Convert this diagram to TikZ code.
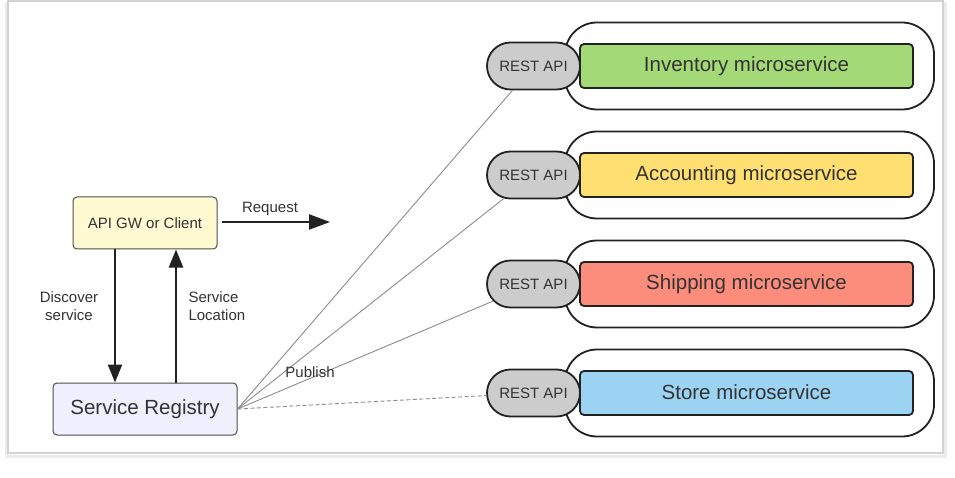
\documentclass[tikz,border=0pt]{standalone}
\usepackage{fontspec}
\setmainfont{Liberation Sans}
\usetikzlibrary{shapes.misc,arrows.meta}
\definecolor{txt}{HTML}{333333}
\definecolor{edge}{HTML}{222222}
\definecolor{frame}{HTML}{D2D2D2}
\definecolor{gwfill}{HTML}{FFFAD2}
\definecolor{regfill}{HTML}{EFEFFD}
\definecolor{pillfill}{HTML}{CCCCCC}
\definecolor{cgreen}{HTML}{A3D977}
\definecolor{cyellow}{HTML}{FFDF71}
\definecolor{cred}{HTML}{FC8C7C}
\definecolor{cblue}{HTML}{9DD3F2}
\definecolor{publine}{HTML}{8C8C8C}
\tikzset{
  small/.style={font=\fontsize{15}{18}\selectfont, text=txt},
  big/.style={font=\fontsize{20.5}{24}\selectfont, text=txt},
  clientbox/.style={draw=edge!80, line width=1pt, rounded corners=4pt, minimum width=144pt, minimum height=52pt, inner sep=0pt, small},
  groupbox/.style={draw=edge, line width=1.8pt, fill=white, rounded corners=32pt, minimum width=369pt, minimum height=87pt, inner sep=0pt},
  svcbox/.style={draw=edge, line width=1.8pt, rounded corners=4pt, minimum width=333pt, minimum height=44pt, inner sep=0pt, big},
  pill/.style={rounded rectangle, draw=edge, line width=1.8pt, fill=pillfill, minimum width=93pt, minimum height=47pt, inner sep=0pt, small},
  flow/.style={draw=edge, line width=2.4pt, -{Triangle[length=18pt,width=14pt]}},
  publine/.style={draw=publine, line width=0.9pt},
}
\begin{document}
\begin{tikzpicture}[x=1pt,y=-1pt]
\useasboundingbox (0,0) rectangle (955,478);
% frame with soft shadow
\draw[frame!45, line width=3pt] (6,4) rectangle (945,456);
\draw[frame, line width=1.2pt, fill=white] (8,1) rectangle (943,453);

% left side
\node[clientbox, fill=gwfill] (gw) at (145,223) {API GW or Client};
\node[clientbox, fill=regfill, minimum width=184pt, big] (reg) at (145,409) {Service Registry};

\coordinate (req) at (330,222);
\draw[flow, -{Triangle[length=21pt,width=15pt]}] (gw.east |- req) ++(4,0) coordinate (reqs) -- (req);
\node[small] (reqlbl) at (270,209) {Request};

\coordinate (dtop) at (115,249);
\coordinate (ltop) at (176,249);
\draw[flow] (gw.south -| dtop) -- (reg.north -| dtop);
\draw[flow] (reg.north -| ltop) -- (gw.south -| ltop);
\node[small, align=center] (dlbl) at (69,306) {Discover\\service};
\node[small, align=left, anchor=west] (llbl) at (185,306) {Service\\Location};

% right side groups
\foreach \i/\cy/\col/\name in {1/66/cgreen/Inventory, 2/175/cyellow/Accounting, 3/284/cred/Shipping, 4/393/cblue/Store}{
  \node[groupbox] (g\i) at (749.5,\cy) {};
  \node[svcbox, fill=\col] (b\i) at (746.5,\cy) {\raisebox{2pt}{\name\ microservice}};
}
\foreach \i/\cy in {1/66, 2/175, 3/284, 4/393}{
  \node[pill] (p\i) at (533.5,\cy) {REST API};
}
% publish lines
\draw[publine] (reg.east) -- (p1);
\draw[publine] (reg.east) -- (p2);
\draw[publine] (reg.east) -- (p3);
\draw[publine, dash pattern=on 4pt off 2.5pt] (reg.east) -- (p4);
\node[small] (publbl) at (310,372) {Publish};
\end{tikzpicture}
\end{document}
